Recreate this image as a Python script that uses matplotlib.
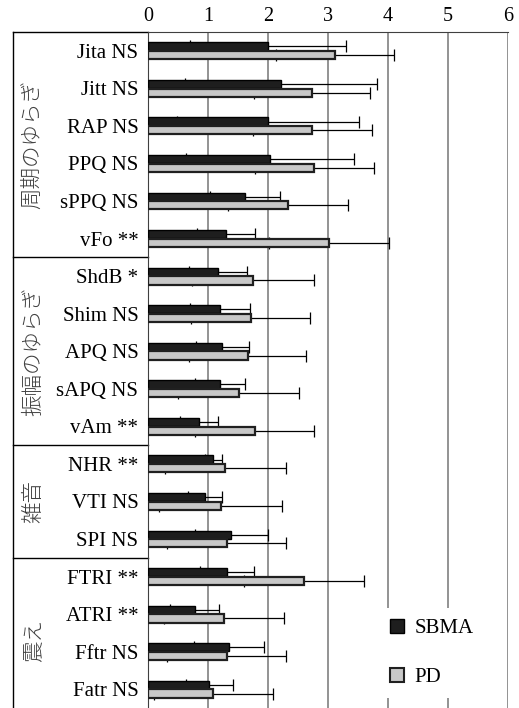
import matplotlib
matplotlib.use('Agg')
import matplotlib.pyplot as plt
import matplotlib.patches as mpatches
import numpy as np

plt.rcParams['font.family'] = ['Liberation Serif', 'Noto Sans CJK JP']

labels = ['Jita NS', 'Jitt NS', 'RAP NS', 'PPQ NS', 'sPPQ NS', 'vFo **',
          'ShdB *', 'Shim NS', 'APQ NS', 'sAPQ NS', 'vAm **',
          'NHR **', 'VTI NS', 'SPI NS',
          'FTRI **', 'ATRI **', 'Fftr NS', 'Fatr NS']

sbma = [2.00, 2.22, 2.00, 2.03, 1.62, 1.30,
        1.17, 1.20, 1.24, 1.20, 0.85,
        1.09, 0.95, 1.39,
        1.32, 0.78, 1.35, 1.02]
sbma_sd = [1.30, 1.60, 1.51, 1.40, 0.58, 0.48,
           0.48, 0.50, 0.44, 0.42, 0.31,
           0.14, 0.28, 0.61,
           0.45, 0.41, 0.58, 0.39]

pd_mean = [3.12, 2.73, 2.74, 2.77, 2.33, 3.02,
           1.75, 1.71, 1.66, 1.51, 1.78,
           1.29, 1.21, 1.31,
           2.60, 1.27, 1.31, 1.09]
pd_sd = [0.98, 0.97, 0.99, 0.99, 1.00, 1.00,
         1.02, 0.99, 0.97, 1.01, 0.99,
         1.01, 1.02, 0.99,
         1.00, 1.00, 0.99, 0.99]

groups = ['周期のゆらぎ', '振幅のゆらぎ', '雑音', '震え']
group_sizes = [6, 5, 3, 4]

fig = plt.figure(figsize=(5.19, 7.08), dpi=100)
ax = fig.add_axes([148/519, 0, 360/519, 676/708])

y = np.arange(len(labels))
h = 0.22
off = 0.115

ax.barh(y - off, sbma, height=h, color='#1e1e1e', edgecolor='black', lw=1, zorder=3)
ax.barh(y + off, pd_mean, height=h, color='#c8c8c8', edgecolor='#202020', lw=1.6, zorder=3)
ax.errorbar(sbma, y - off, xerr=sbma_sd, fmt='none', ecolor='black', elinewidth=0.9,
            capsize=4, capthick=0.9, zorder=2)
ax.errorbar(pd_mean, y + off, xerr=pd_sd, fmt='none', ecolor='black', elinewidth=0.9,
            capsize=4, capthick=0.9, zorder=2)

ax.set_xlim(0, 6)
ax.set_ylim(len(labels) - 0.5, -0.5)
ax.set_xticks(range(7))
ax.xaxis.tick_top()
ax.tick_params(axis='x', length=0, pad=4, labelsize=14.5)
ax.set_yticks(y)
ax.set_yticklabels(labels, fontsize=15)
ax.tick_params(axis='y', length=0, pad=7)
ax.grid(axis='x', color='#808080', lw=1.2, zorder=0)
ax.set_axisbelow(True)
for s in ['right', 'bottom']:
    ax.spines[s].set_visible(False)
ax.spines['top'].set_color('#404040')
ax.spines['left'].set_color('#404040')

# category box on the left
xb = -2.25
ax.plot([xb, xb], [-0.5, len(labels) + 1], color='black', lw=1, clip_on=False)
ax.plot([xb, 0], [-0.5, -0.5], color='black', lw=1, clip_on=False)
start = 0
for name, n in zip(groups, group_sizes):
    end = start + n
    if end < len(labels):
        ax.plot([xb, 0], [end - 0.5, end - 0.5], color='black', lw=1, clip_on=False)
    ax.text(-1.92, (start + end - 1) / 2 + (0.2 if name == '震え' else 0), name,
            rotation=90, ha='center', va='center', fontsize=15.5, color='#404040',
            family=['Noto Sans CJK JP'], fontweight='light', clip_on=False)
    start = end

handles = [mpatches.Patch(facecolor='#1e1e1e', edgecolor='black', label='SBMA'),
           mpatches.Patch(facecolor='#c8c8c8', edgecolor='#202020', lw=1.5, label='PD')]
leg = ax.legend(handles=handles, loc='lower left', bbox_to_anchor=(0.613, 0.0),
                frameon=True, fontsize=15, labelspacing=1.4, handlelength=0.7,
                handleheight=0.7, handletextpad=0.5, borderpad=0.5,
                fancybox=False, edgecolor='none', facecolor='white', framealpha=1)

fig.savefig('out.png', dpi=100)
